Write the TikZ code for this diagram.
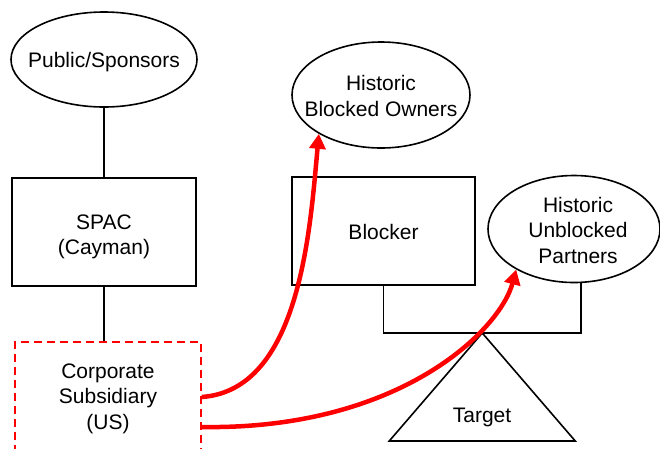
\documentclass[tikz,border=0pt]{standalone}
\usepackage{fontspec}
\setmainfont{Liberation Sans}
\usetikzlibrary{arrows.meta,shapes.geometric,calc}

\tikzset{
  base/.style={draw=black, line width=1.6pt, inner sep=0pt, font=\fontsize{21}{25.5}\selectfont, align=center},
  party/.style={base, ellipse},
  entity/.style={base, rectangle},
  subsid/.style={entity, draw=red, dash pattern=on 8pt off 5pt},
  txt/.style={font=\fontsize{21}{25.5}\selectfont, align=center, inner sep=0pt},
  link/.style={draw=black, line width=1.6pt},
  flow/.style={draw=red, line width=4.5pt, -{Triangle[length=15pt,width=16pt]}},
}

\begin{document}
\begin{tikzpicture}[x=1pt,y=-1pt]
  \useasboundingbox (0,0) rectangle (660,448);
  \clip (0,0) rectangle (660,448);
  \fill[white] (0,0) rectangle (660,448);

  % left column: sponsors, SPAC, subsidiary
  \node[party, minimum width=186pt, minimum height=95pt] (pub) at (104,59.5) {};
  \node[txt] (publbl) at ([yshift=-3pt]pub.center) {Public/Sponsors};
  \node[entity, minimum width=184pt, minimum height=108pt] (spac) at (104,232) {};
  \node[txt] (spaclbl) at ([yshift=-5pt]spac.center) {SPAC\\(Cayman)};
  \node[subsid, minimum width=186pt, minimum height=110pt] (sub) at (108,397) {};
  \node[txt] (sublbl) at ([yshift=-1.5pt]sub.center) {Corporate\\Subsidiary\\(US)};

  \draw[link] (pub.south) -- (spac.north);
  \draw[link] (spac.south) -- (spac.south |- sub.north);

  % right side: owners, blocker, partners, target
  \node[party, minimum width=178pt, minimum height=106pt] (owners) at (381,95) {};
  \node[txt] (ownlbl) at ([yshift=-1pt]owners.center) {Historic\\Blocked Owners};
  \node[entity, minimum width=183pt, minimum height=108pt] (blocker) at (383.5,231) {};
  \node[txt] (blklbl) at ([yshift=-1pt]blocker.center) {Blocker};
  \node[party, minimum width=172pt, minimum height=107pt] (partners) at (574,229) {};
  \node[txt] (partlbl) at ([xshift=4pt,yshift=-1pt]partners.center) {Historic\\Unblocked\\Partners};

  \coordinate (jl) at (383.5,333);
  \coordinate (jr) at (581,333);
  \coordinate (tapex) at ($(jl)!0.5!(jr)$);
  \draw[link] (blocker.south) -- (jl) -- (jr) -- (jr |- partners.south);

  \draw[link, line join=miter] (tapex) -- ++(-93,108) -- ++(186,0) -- cycle;
  \node[txt] (target) at (482,417) {Target};

  % flows out of the subsidiary
  \draw[flow] (sub.east) .. controls (300,390) and (310,230) .. (owners.212);
  \draw[flow] ([yshift=-30pt]sub.east) .. controls (400,430) and (500,330) .. (partners.215);
\end{tikzpicture}
\end{document}
